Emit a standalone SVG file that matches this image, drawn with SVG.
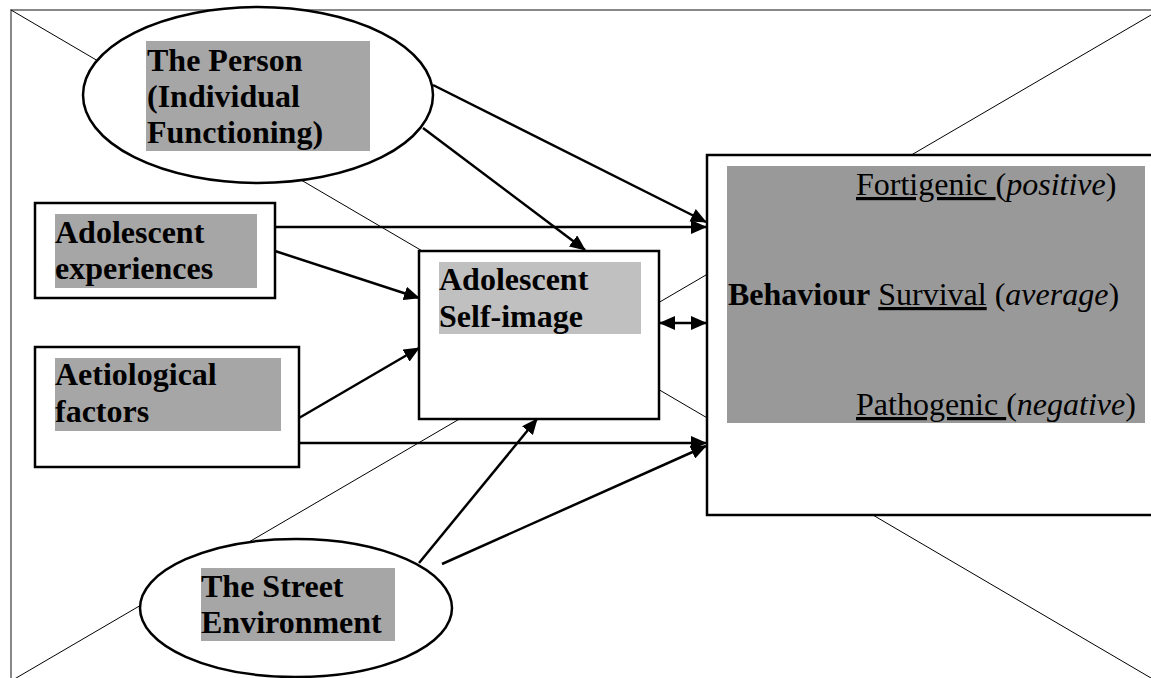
<svg xmlns="http://www.w3.org/2000/svg" width="1151" height="678" viewBox="0 0 1151 678">
<style>
.frame{fill:none;stroke:#888;stroke-width:2}
.diag{stroke:#000;stroke-width:1;fill:none}
.node{fill:#fff;stroke:#000;stroke-width:2.5}
.lab{fill:#a6a6a6}
.t{font-family:"Liberation Serif","Times New Roman",serif;font-size:32px;fill:#000}
.b{font-weight:bold}
.u{text-decoration:underline}
.i{font-style:italic}
.conn line{stroke:#000;stroke-width:2.5}
</style>
<defs>
<marker id="ah" markerUnits="userSpaceOnUse" markerWidth="16" markerHeight="14" refX="15" refY="7" orient="auto-start-reverse" viewBox="0 0 16 14">
<path d="M0,0 L16,7 L0,14 z" fill="#000"/>
</marker>
</defs>
<rect class="frame" x="11" y="10" width="1160" height="690"/>
<g id="background-lines">
<line class="diag" x1="11" y1="10" x2="1151" y2="678"/>
<line class="diag" x1="11" y1="681" x2="1151" y2="15"/>
</g>
<g id="person">
<ellipse class="node" cx="258" cy="95" rx="175" ry="88"/>
<rect class="lab" x="146" y="41" width="224" height="110"/>
<text class="t b" x="147" y="71">The Person</text>
<text class="t b" x="147" y="107">(Individual</text>
<text class="t b" x="147" y="143">Functioning)</text>
</g>
<g id="experiences">
<rect class="node" x="35" y="203" width="240" height="95"/>
<rect class="lab" x="55" y="214" width="202" height="74"/>
<text class="t b" x="55" y="243">Adolescent</text>
<text class="t b" x="55" y="279">experiences</text>
</g>
<g id="aetiological">
<rect class="node" x="35" y="347" width="264" height="120"/>
<rect class="lab" x="55" y="358" width="226" height="73"/>
<text class="t b" x="55" y="385">Aetiological</text>
<text class="t b" x="55" y="422">factors</text>
</g>
<g id="selfimage">
<rect class="node" x="419" y="251" width="240" height="168"/>
<rect x="439" y="262" width="202" height="72" fill="#c0c0c0"/>
<text class="t b" x="439" y="290">Adolescent</text>
<text class="t b" x="439" y="327">Self-image</text>
</g>
<g id="behaviour">
<rect class="node" x="707" y="155" width="460" height="360"/>
<rect x="727" y="166" width="418" height="257" fill="#999999"/>
<text class="t" x="856" y="195"><tspan class="u">Fortigenic </tspan>(<tspan class="i">positive</tspan>)</text>
<text class="t" x="728" y="305"><tspan class="b">Behaviour</tspan> <tspan class="u">Survival</tspan> (<tspan class="i">average</tspan>)</text>
<text class="t" x="856" y="415"><tspan class="u">Pathogenic </tspan>(<tspan class="i">negative</tspan>)</text>
</g>
<g id="street">
<ellipse class="node" cx="296" cy="608" rx="156" ry="69"/>
<rect class="lab" x="201" y="568" width="194" height="73"/>
<text class="t b" x="201" y="597">The Street</text>
<text class="t b" x="201" y="633">Environment</text>
</g>
<g id="connectors" class="conn">
<line x1="433" y1="85" x2="706" y2="222" marker-end="url(#ah)"/>
<line x1="423" y1="128" x2="585" y2="250" marker-end="url(#ah)"/>
<line x1="275" y1="227" x2="706" y2="227" marker-end="url(#ah)"/>
<line x1="275" y1="251" x2="419" y2="298" marker-end="url(#ah)"/>
<line x1="299" y1="418" x2="419" y2="348" marker-end="url(#ah)"/>
<line x1="299" y1="443" x2="706" y2="443" marker-end="url(#ah)"/>
<line x1="419" y1="563" x2="537" y2="419" marker-end="url(#ah)"/>
<line x1="442" y1="564" x2="706" y2="446" marker-end="url(#ah)"/>
<line x1="660" y1="323" x2="706" y2="323" marker-start="url(#ah)" marker-end="url(#ah)"/>
</g>
</svg>
